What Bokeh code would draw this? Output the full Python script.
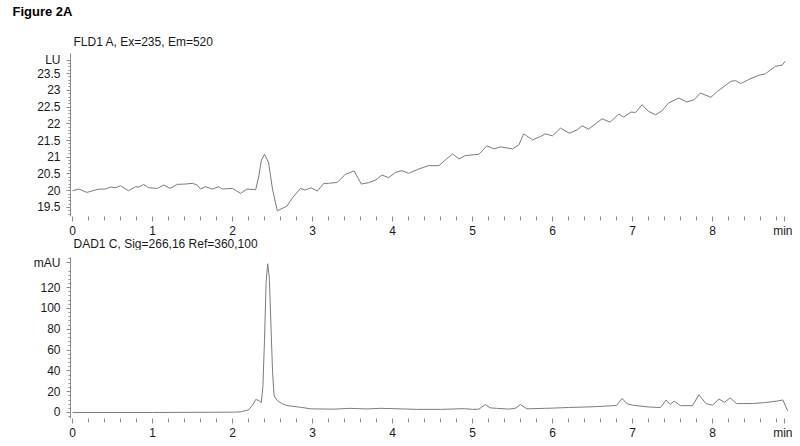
from bokeh.plotting import figure
from bokeh.layouts import column
from bokeh.models import FixedTicker, Range1d, Title
from bokeh.embed import file_html
from bokeh.resources import INLINE

# ---------------- data ----------------
fld_time = [0.00, 0.08, 0.18, 0.33, 0.41, 0.48, 0.54, 0.60, 0.70, 0.79, 0.83, 0.89, 0.95,
            1.06, 1.14, 1.22, 1.31, 1.41, 1.50, 1.56, 1.60, 1.66, 1.75, 1.83, 1.87, 2.00,
            2.10, 2.18, 2.29, 2.33, 2.36, 2.40, 2.45, 2.50, 2.56, 2.62, 2.68, 2.75, 2.85,
            2.91, 2.98, 3.06, 3.14, 3.20, 3.31, 3.41, 3.52, 3.61, 3.70, 3.79, 3.87, 3.95,
            4.04, 4.12, 4.20, 4.33, 4.45, 4.58, 4.66, 4.75, 4.83, 4.91, 5.08, 5.18, 5.27,
            5.35, 5.50, 5.58, 5.64, 5.75, 5.85, 5.91, 6.00, 6.10, 6.21, 6.31, 6.37, 6.45,
            6.62, 6.72, 6.83, 6.89, 6.98, 7.04, 7.12, 7.20, 7.29, 7.37, 7.45, 7.58, 7.68,
            7.77, 7.85, 7.98, 8.06, 8.12, 8.23, 8.29, 8.35, 8.45, 8.58, 8.66, 8.73, 8.79,
            8.87, 8.91]
fld_lu = [20.00, 20.05, 19.95, 20.05, 20.05, 20.11, 20.09, 20.15, 20.00, 20.12, 20.11, 20.19, 20.09,
          20.07, 20.17, 20.07, 20.19, 20.20, 20.22, 20.17, 20.05, 20.12, 20.05, 20.12, 20.05, 20.07,
          19.92, 20.05, 20.03, 20.45, 20.90, 21.09, 20.85, 20.05, 19.40, 19.47, 19.54, 19.79, 20.07,
          20.02, 20.09, 19.99, 20.22, 20.22, 20.25, 20.49, 20.59, 20.20, 20.24, 20.32, 20.47, 20.39,
          20.55, 20.60, 20.52, 20.65, 20.75, 20.75, 20.92, 21.10, 20.95, 21.05, 21.09, 21.34, 21.25,
          21.31, 21.25, 21.37, 21.70, 21.52, 21.62, 21.70, 21.64, 21.87, 21.72, 21.82, 21.94, 21.84,
          22.15, 22.05, 22.29, 22.20, 22.35, 22.34, 22.57, 22.37, 22.27, 22.39, 22.62, 22.77, 22.65,
          22.72, 22.92, 22.79, 22.97, 23.07, 23.27, 23.29, 23.20, 23.32, 23.45, 23.49, 23.62, 23.72,
          23.75, 23.87]

dad_time = [0.00, 1.00, 2.00, 2.10, 2.20, 2.25, 2.29, 2.33, 2.36, 2.38, 2.40, 2.42, 2.44, 2.46,
            2.48, 2.50, 2.52, 2.56, 2.62, 2.68, 2.85, 2.98, 3.27, 3.47, 3.68, 3.85, 4.10, 4.30,
            4.60, 4.90, 5.00, 5.08, 5.16, 5.22, 5.30, 5.45, 5.53, 5.60, 5.68, 5.90, 6.00, 6.20,
            6.50, 6.80, 6.87, 6.93, 7.00, 7.20, 7.35, 7.42, 7.47, 7.52, 7.60, 7.75, 7.83, 7.92,
            8.00, 8.08, 8.15, 8.22, 8.30, 8.50, 8.65, 8.80, 8.88, 8.94]
dad_mau = [0.0, 0.0, 0.3, 0.6, 2.5, 7.0, 12.5, 11.5, 9.5, 25.0, 70.0, 125.0, 143.0, 130.0,
           85.0, 40.0, 16.0, 11.5, 8.5, 6.7, 5.0, 3.5, 3.2, 4.0, 3.4, 4.0, 3.5, 3.0,
           3.0, 3.7, 3.0, 3.2, 7.7, 4.5, 4.0, 3.3, 3.8, 7.7, 3.5, 4.0, 4.2, 4.8,
           5.5, 6.7, 13.5, 8.5, 7.0, 5.3, 4.8, 12.0, 7.7, 11.0, 6.6, 6.6, 17.0, 8.5,
           7.0, 13.0, 9.8, 14.0, 8.6, 8.6, 9.5, 10.9, 12.0, 1.5]

x_major = [0, 1, 2, 3, 4, 5, 6, 7, 8]
x_unit_pos = 8.9
fld_ticks = [19.5, 20, 20.5, 21, 21.5, 22, 22.5, 23, 23.5]
fld_unit_pos = 23.9
dad_ticks = [0, 20, 40, 60, 80, 100, 120]
dad_unit_pos = 144

fld_title = "FLD1 A, Ex=235, Em=520"
dad_title = "DAD1 C, Sig=266,16 Ref=360,100"
fig_title = "Figure 2A"

FONT = "Liberation Sans"
TXT = "#1a1a1a"
TRACE = "#7c7c7c"
AXC = "#8c8c8c"
W = 792


def style(p, yt, yunit, ylabel, yminor):
    p.outline_line_color = None
    p.xgrid.visible = False
    p.ygrid.visible = False
    p.background_fill_color = "white"
    p.border_fill_color = "white"
    xa = p.xaxis[0]
    xa.ticker = FixedTicker(ticks=x_major + [x_unit_pos],
                            minor_ticks=[round(i * 0.2, 1) for i in range(0, 45) if i % 5 != 0])
    xa.major_label_overrides = {x_unit_pos: "min"}
    xa.axis_line_color = None
    xa.major_tick_line_color = AXC
    xa.minor_tick_line_color = AXC
    xa.major_tick_in = 0
    xa.major_tick_out = 5
    xa.minor_tick_in = 0
    xa.minor_tick_out = 4
    xa.major_label_standoff = 2
    xa.major_label_text_font = FONT
    xa.major_label_text_font_size = "12px"
    xa.major_label_text_color = TXT
    ya = p.yaxis[0]
    ya.ticker = FixedTicker(ticks=yt + [yunit], minor_ticks=yminor)
    ya.major_label_overrides = {yunit: ylabel}
    ya.axis_line_color = AXC
    ya.major_tick_line_color = AXC
    ya.minor_tick_line_color = AXC
    ya.major_tick_in = 0
    ya.major_tick_out = 4
    ya.minor_tick_in = 0
    ya.minor_tick_out = 2
    ya.major_label_standoff = 6
    ya.major_label_text_font = FONT
    ya.major_label_text_font_size = "12px"
    ya.major_label_text_color = TXT


def header(text, offset, standoff, size="12px", bold=False, color=TXT, valign="bottom"):
    return Title(text=text, align="left", offset=offset, standoff=standoff,
                 vertical_align=valign, text_font=FONT, text_font_size=size,
                 text_font_style="bold" if bold else "normal", text_color=color)


# ---------------- page heading ----------------
p0 = figure(width=W, height=24, output_backend="svg", toolbar_location=None,
            x_axis_location=None, y_axis_location=None,
            min_border_left=0, min_border_right=0, min_border_top=0, min_border_bottom=0,
            title=header(fig_title, -58, 2, size="13px", bold=True, color="#000000"))
p0.outline_line_color = None
p0.xgrid.visible = False
p0.ygrid.visible = False

# ---------------- top panel (FLD) ----------------
p1 = figure(width=W, height=226, output_backend="svg", toolbar_location=None,
            x_range=Range1d(-0.025, 8.975), y_range=Range1d(19.23, 24.10),
            min_border_left=70, min_border_right=2, min_border_top=29, min_border_bottom=34,
            title=header(fld_title, 3, 9))
p1.line(fld_time, fld_lu, line_color=TRACE, line_width=1)
style(p1, fld_ticks, fld_unit_pos, "LU",
      [round(19.3 + 0.1 * i, 1) for i in range(0, 48) if round((19.3 + 0.1 * i) * 2, 6) % 1 != 0])
p1.add_layout(header(dad_title, 3, -8, valign="top"), "below")

# ---------------- bottom panel (DAD) ----------------
p2 = figure(width=W, height=196, output_backend="svg", toolbar_location=None,
            x_range=Range1d(-0.025, 8.975), y_range=Range1d(-5.77, 149),
            min_border_left=70, min_border_right=2, min_border_top=7, min_border_bottom=28)
p2.line(dad_time, dad_mau, line_color=TRACE, line_width=1)
style(p2, dad_ticks, dad_unit_pos, "mAU", [v for v in range(-4, 149, 4) if v % 20 != 0])

layout = column(p0, p1, p2, spacing=0)
open("out.html", "w").write(file_html(layout, INLINE))
